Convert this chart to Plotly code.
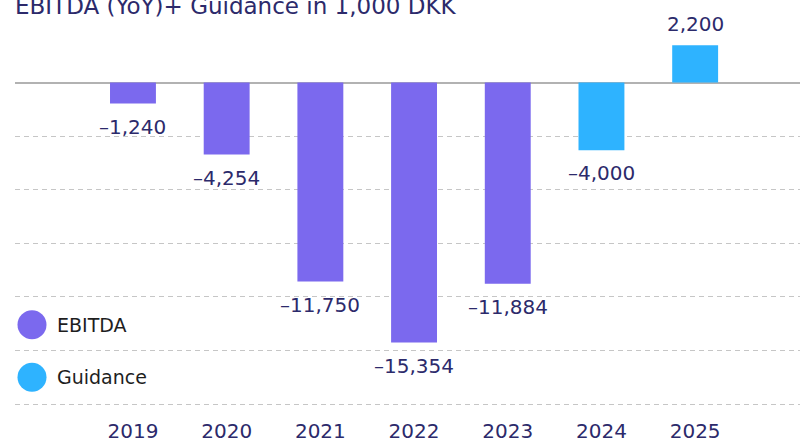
import plotly.graph_objects as go

# ---- data ----
ebitda_years = ["2019", "2020", "2021", "2022", "2023"]
ebitda_values = [-1240, -4254, -11750, -15354, -11884]
guidance_years = ["2024", "2025"]
guidance_values = [-4000, 2200]
all_years = ebitda_years + guidance_years
series_names = ["EBITDA", "Guidance"]
title_text = "EBITDA (YoY)+ Guidance in 1,000 DKK"

# ---- style ----
C_EBITDA = "#7B69EE"
C_GUID = "#2EB3FF"
NAVY = "#2C2A6B"
FONT = "DejaVu Sans"
W, H = 800, 443
ML, MR, MT, MB = 15, 0, 20, 33
GRID_STEP = 3165
BAR_W = 0.49


def fmt(v):
    s = f"{abs(v):,}"
    return ("\u2013" + s) if v < 0 else s


fig = go.Figure()
fig.add_trace(go.Bar(x=ebitda_years, y=ebitda_values, name=series_names[0],
                     marker=dict(color=C_EBITDA, line=dict(width=0)),
                     width=BAR_W, showlegend=False, hoverinfo="x+y"))
fig.add_trace(go.Bar(x=guidance_years, y=guidance_values, name=series_names[1],
                     marker=dict(color=C_GUID, line=dict(width=0)),
                     width=BAR_W, showlegend=False, hoverinfo="x+y"))

annotations = []
for xs, ys in ((ebitda_years, ebitda_values), (guidance_years, guidance_values)):
    for x, y in zip(xs, ys):
        annotations.append(dict(
            x=all_years.index(x), y=y, xref="x", yref="y", text=fmt(y),
            showarrow=False, yanchor="middle", yshift=(-23 if y < 0 else 21),
            font=dict(family=FONT, size=20, color=NAVY)))

# title (partially cut at top like the reference)
annotations.append(dict(
    x=0, y=1, xref="paper", yref="paper", xanchor="left", yanchor="middle",
    xshift=-2, yshift=14, text=title_text, showarrow=False,
    font=dict(family=FONT, size=23, color=NAVY)))

plot_h = H - MT - MB
plot_w = W - ML - MR


def px_x(p):
    return (p - ML) / plot_w


def px_y(p):
    return (H - MB - p) / plot_h


shapes = []
legend_rows = [(series_names[0], C_EBITDA, 327), (series_names[1], C_GUID, 380)]
for name, col, cy in legend_rows:
    shapes.append(dict(type="circle", xref="paper", yref="paper",
                       xsizemode="pixel", ysizemode="pixel",
                       xanchor=px_x(32), yanchor=px_y(cy),
                       x0=-14.5, x1=14.5, y0=-14.5, y1=14.5,
                       fillcolor=col, line=dict(width=0)))
    annotations.append(dict(x=px_x(55), y=px_y(cy), xref="paper", yref="paper",
                            xanchor="left", yanchor="middle", text=name,
                            showarrow=False,
                            font=dict(family=FONT, size=19, color="#1E1E1E")))

fig.update_layout(
    width=W, height=H,
    margin=dict(l=ML, r=MR, t=MT, b=MB, pad=0),
    paper_bgcolor="white", plot_bgcolor="white",
    barmode="overlay",
    showlegend=False,
    annotations=annotations,
    shapes=shapes,
    font=dict(family=FONT, color=NAVY),
    xaxis=dict(type="category", categoryorder="array", categoryarray=all_years,
               range=[-1.259, 7.119], showgrid=False, zeroline=False,
               showline=False, ticks="", tickfont=dict(family=FONT, size=20, color=NAVY),
               ticklabelstandoff=10, fixedrange=True),
    yaxis=dict(range=[-19156, 3691], tickvals=[-GRID_STEP * k for k in range(1, 7)],
               showticklabels=False, showgrid=True, gridcolor="#C6C6C6",
               gridwidth=1, griddash="5px,4px", zeroline=True,
               zerolinecolor="#B2B2B2", zerolinewidth=2, showline=False,
               ticks="", fixedrange=True),
)

fig.write_html("out.html", config={"displayModeBar": False},
               post_script="document.body.style.margin='0';document.body.style.overflow='hidden';")
